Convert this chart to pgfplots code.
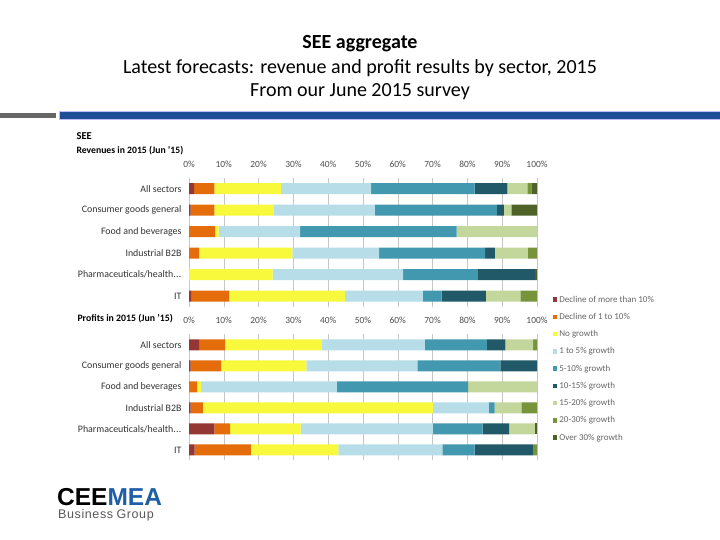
\documentclass[border=0pt]{standalone}
\usepackage{fontspec}
\setmainfont{Carlito}
\newfontfamily\logofont{Liberation Sans}
\usepackage{pgfplots}
\pgfplotsset{compat=1.18}
\definecolor{c1}{HTML}{943634}
\definecolor{c2}{HTML}{E46C0A}
\definecolor{c3}{HTML}{F8F83C}
\definecolor{c4}{HTML}{B7DEE8}
\definecolor{c5}{HTML}{4198AF}
\definecolor{c6}{HTML}{215968}
\definecolor{c7}{HTML}{C3D69B}
\definecolor{c8}{HTML}{77933C}
\definecolor{c9}{HTML}{4F6228}
\definecolor{topblue}{HTML}{1F4E96}
\definecolor{logoblue}{HTML}{1F5FA8}
\newcommand{\pharma}{Pharmaceuticals/health.\kern0.3pt.\kern0.3pt.}
\pgfplotsset{
  seebar/.style={
    xbar stacked, scale only axis, width=348pt,
    xmin=0, xmax=100, ymin=-0.5, ymax=5.5, y dir=reverse,
    bar width=11pt,
    xtick={0,10,20,30,40,50,60,70,80,90,100}, xticklabel={\pgfmathprintnumber{\tick}\%},
    xticklabel pos=upper,
    /pgf/number format/assume math mode=true,
    ytick={0,1,2,3,4,5},
    yticklabels={All sectors,Consumer goods general,Food and beverages,Industrial B2B,{\pharma},IT},
    major tick length=0pt,
    axis line style={draw=none},
    xmajorgrids, grid style={gray!45, line width=0.5pt},
    xticklabel style={font=\fontsize{9.4}{10}\selectfont, text=black!70, yshift=7pt},
    yticklabel style={font=\fontsize{9.9}{11}\selectfont, text=black!80, xshift=-4pt},
    every axis plot/.append style={draw=none},
    legend image code/.code={\fill[##1] (0pt,-2.2pt) rectangle (4.4pt,2.4pt);},
  }
}
\begin{document}
\begin{tikzpicture}[x=1pt,y=1pt]
\path[use as bounding box, fill=white] (0,0) rectangle (720,540);
% titles
\node[font=\fontsize{20}{24}\selectfont\bfseries] at (360,540-44) {SEE aggregate};
\node[font=\fontsize{20}{24}\selectfont] at (360,540-68) {Latest forecasts: revenue and profit results by sector, 2015};
\node[font=\fontsize{20}{24}\selectfont] at (360,540-92) {From our June 2015 survey};
% top bars
\fill[black!60] (0,540-118.5) rectangle (56,540-113);
\fill[blue!25] (59,540-120) rectangle (720,540-111.5);
\fill[topblue] (60,540-119) rectangle (720,540-112.5);
% chart labels
\node[anchor=west, font=\fontsize{10.5}{12}\selectfont\bfseries] at (73,540-136) {SEE};
\node[anchor=west, font=\fontsize{9.7}{12}\selectfont\bfseries] at (73,540-151) {Revenues in 2015 (Jun '15)};
\node[anchor=west, font=\fontsize{9.8}{12}\selectfont\bfseries] at (74,540-319) {Profits in 2015 (Jun '15)};
% revenue chart
\begin{axis}[seebar, at={(189pt,362pt)}, anchor=north west, height=129pt]
\addplot[fill=c1] coordinates {(1.5,0) (0.5,1) (0,2) (0,3) (0,4) (0.6,5)};
\addplot[fill=c2] coordinates {(5.8,0) (6.8,1) (7.5,2) (2.9,3) (0,4) (10.9,5)};
\addplot[fill=c3] coordinates {(19.1,0) (17.1,1) (1.0,2) (26.8,3) (24.0,4) (33.3,5)};
\addplot[fill=c4] coordinates {(25.9,0) (29.0,1) (23.4,2) (24.9,3) (37.5,4) (22.4,5)};
\addplot[fill=c5] coordinates {(29.8,0) (35.1,1) (45.0,2) (30.5,3) (21.5,4) (5.4,5)};
\addplot[fill=c6] coordinates {(9.4,0) (2.0,1) (0,2) (2.8,3) (16.4,4) (12.7,5)};
\addplot[fill=c7] coordinates {(5.7,0) (2.1,1) (23.1,2) (9.5,3) (0,4) (9.9,5)};
\addplot[fill=c8] coordinates {(1.2,0) (0,1) (0,2) (2.6,3) (0,4) (4.8,5)};
\addplot[fill=c9] coordinates {(1.6,0) (7.4,1) (0,2) (0,3) (0.6,4) (0,5)};
\end{axis}
% profits chart
\begin{axis}[seebar, at={(189pt,205.5pt)}, anchor=north west, height=126pt,
  legend style={at={(1.046,1.322)}, anchor=north west, draw=none, fill=none,
    font=\fontsize{9}{10}\selectfont, text=black!60, row sep=5.5pt,
    inner sep=0pt, outer sep=0pt},
  legend cell align=left]
\addplot[fill=c1] coordinates {(2.9,0) (0.5,1) (0,2) (0.5,3) (7.3,4) (1.6,5)};
\addplot[fill=c2] coordinates {(7.5,0) (8.7,1) (2.3,2) (3.5,3) (4.5,4) (16.2,5)};
\addplot[fill=c3] coordinates {(27.8,0) (24.5,1) (1.2,2) (66.1,3) (20.3,4) (25.1,5)};
\addplot[fill=c4] coordinates {(29.5,0) (31.9,1) (39.0,2) (16.0,3) (38.0,4) (29.9,5)};
\addplot[fill=c5] coordinates {(17.9,0) (23.9,1) (37.7,2) (1.7,3) (14.3,4) (9.3,5)};
\addplot[fill=c6] coordinates {(5.3,0) (10.5,1) (0,2) (0,3) (7.6,4) (16.7,5)};
\addplot[fill=c7] coordinates {(8.0,0) (0,1) (19.8,2) (7.7,3) (7.4,4) (0,5)};
\addplot[fill=c8] coordinates {(1.1,0) (0,1) (0,2) (4.5,3) (0,4) (1.2,5)};
\addplot[fill=c9] coordinates {(0,0) (0,1) (0,2) (0,3) (0.6,4) (0,5)};
\legend{Decline of more than 10\%, Decline of 1 to 10\%, No growth, 1 to 5\% growth, 5-10\% growth, 10-15\% growth, 15-20\% growth, 20-30\% growth, Over 30\% growth}
\end{axis}
% logo
\node[anchor=base west, inner sep=0pt] at (57,540-505.5) {\logofont\vtop{\offinterlineskip
  \hbox{\fontsize{24.5}{25}\selectfont\bfseries CEE\textcolor{logoblue}{MEA}}
  \kern 3.8pt
  \hbox{\kern1pt\fontsize{12.5}{13}\selectfont\color{black!65}B\kern0.6pt u\kern0.6pt s\kern0.6pt i\kern0.6pt n\kern0.6pt e\kern0.6pt s\kern0.6pt s G\kern0.6pt r\kern0.6pt o\kern0.6pt u\kern0.6pt p}}};
\end{tikzpicture}
\end{document}
